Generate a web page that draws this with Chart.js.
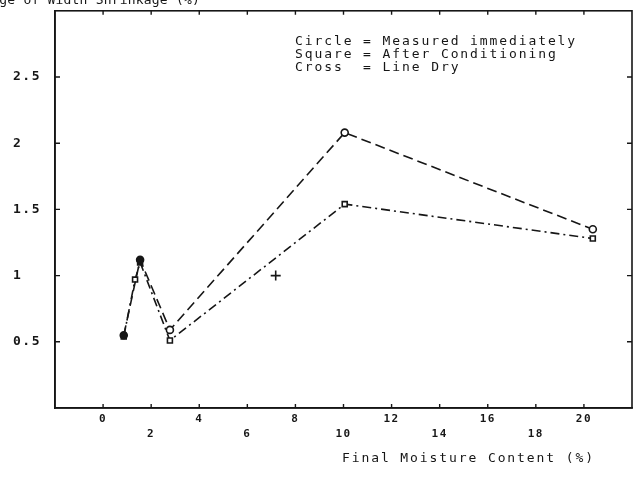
<!DOCTYPE html>
<html>
<head>
<meta charset="utf-8">
<script src="https://cdn.jsdelivr.net/npm/chart.js@4.4.0/dist/chart.umd.min.js"></script>
<style>
    body { margin: 0; background: #fff; }
    #wrap { width: 643px; height: 478px; }
</style>
</head>
<body>
<div id="wrap"><canvas id="shrinkChart"></canvas></div>
<script>
// Values (x = final moisture content %, y = width shrinkage %)
const measuredX = [0.86, 1.54, 2.78, 10.05, 20.37];
const measuredY = [0.55, 1.12, 0.59, 2.08, 1.35];

const conditionedX = [0.86, 1.33, 1.54, 2.78, 10.05, 20.37];
const conditionedY = [0.54, 0.97, 1.10, 0.51, 1.54, 1.28];

const lineDryX = [7.18];
const lineDryY = [1.0];

const legendLines = [
    'Circle = Measured immediately',
    'Square = After Conditioning',
    'Cross  = Line Dry'
];
const xTitle = 'Final Moisture Content (%)';
const yTitle = 'Percentage of Width Shrinkage (%)';

const ink = '#161616';
const monoFont = '"DejaVu Sans Mono", "Liberation Mono", monospace';

function toPoints(xs, ys) {
    return xs.map((x, i) => ({ x: x, y: ys[i] }));
}

// Inward tick marks on all four sides, box frame and the loose text
const framePlugin = {
    id: 'frame',
    beforeDraw(chart) {
        chart.ctx.letterSpacing = '1.5px';
    },
    afterDraw(chart) {
        const ctx = chart.ctx;
        const area = chart.chartArea;
        const xs = chart.scales.x;
        const ys = chart.scales.y;
        ctx.save();
        ctx.strokeStyle = ink;
        ctx.lineWidth = 1.6;
        ctx.strokeRect(area.left, area.top, area.right - area.left, area.bottom - area.top);

        ctx.lineWidth = 1.4;
        ctx.beginPath();
        xs.ticks.forEach(t => {
            if (t.value < 0 || t.value > 20) return;
            const px = xs.getPixelForValue(t.value);
            ctx.moveTo(px, area.bottom);
            ctx.lineTo(px, area.bottom - 4);
            ctx.moveTo(px, area.top);
            ctx.lineTo(px, area.top + 4);
        });
        ys.ticks.forEach(t => {
            if (t.value <= 0 || t.value >= 3) return;
            const py = ys.getPixelForValue(t.value);
            ctx.moveTo(area.left, py);
            ctx.lineTo(area.left + 5, py);
            ctx.moveTo(area.right, py);
            ctx.lineTo(area.right - 5, py);
        });
        ctx.stroke();

        ctx.fillStyle = ink;
        ctx.font = '13px ' + monoFont;
        ctx.letterSpacing = '1.9px';
        ctx.textBaseline = 'middle';
        ctx.textAlign = 'left';
        legendLines.forEach((line, i) => {
            ctx.fillText(line, 295, 42 + i * 12.7);
        });
        ctx.fillText(xTitle, 342, 459);

        ctx.textAlign = 'right';
        ctx.letterSpacing = '0.2px';
        ctx.fillText(yTitle, 200, 1);
        ctx.restore();
    }
};

const ctx = document.getElementById('shrinkChart').getContext('2d');
new Chart(ctx, {
    type: 'scatter',
    data: {
        datasets: [
            {
                label: 'Measured immediately',
                data: toPoints(measuredX, measuredY),
                showLine: true,
                borderColor: ink,
                borderWidth: 1.6,
                borderDash: [10, 5],
                pointStyle: 'circle',
                pointRadius: 3.5,
                pointBorderWidth: 1.6,
                pointBorderColor: ink,
                pointBackgroundColor: [ink, ink, '#fff', '#fff', '#fff']
            },
            {
                label: 'After Conditioning',
                data: toPoints(conditionedX, conditionedY),
                showLine: true,
                borderColor: ink,
                borderWidth: 1.6,
                borderDash: [9, 4, 2, 4],
                pointStyle: 'rect',
                pointRadius: 3.5,
                pointBorderWidth: 1.6,
                pointBorderColor: ink,
                pointBackgroundColor: [ink, '#fff', ink, '#fff', '#fff', '#fff']
            },
            {
                label: 'Line Dry',
                data: toPoints(lineDryX, lineDryY),
                showLine: false,
                pointStyle: 'cross',
                pointRadius: 5,
                pointBorderWidth: 1.6,
                pointBorderColor: ink
            }
        ]
    },
    options: {
        responsive: true,
        maintainAspectRatio: false,
        animation: false,
        layout: {
            padding: { left: 13, top: 6, right: 11, bottom: 0 }
        },
        plugins: {
            legend: { display: false },
            tooltip: { enabled: false }
        },
        scales: {
            x: {
                type: 'linear',
                min: -2,
                max: 22,
                afterFit: function(scale) { scale.height = 70; },
                border: { display: true, color: ink, width: 1.6 },
                grid: { display: false, drawTicks: false },
                ticks: {
                    stepSize: 2,
                    color: ink,
                    padding: 4,
                    maxRotation: 0,
                    autoSkip: false,
                    font: { family: monoFont, size: 11, weight: 'bold', lineHeight: 1.35 },
                    callback: function(value) {
                        if (value < 0 || value > 20) return '';
                        return value % 4 === 0 ? String(value) : ['', String(value)];
                    }
                }
            },
            y: {
                type: 'linear',
                min: 0,
                max: 3,
                afterFit: function(scale) { scale.width = 42; },
                border: { display: true, color: ink, width: 1.6 },
                grid: { display: false, drawTicks: false },
                ticks: {
                    stepSize: 0.5,
                    color: ink,
                    crossAlign: 'far',
                    font: { family: monoFont, size: 13, weight: 'bold' },
                    callback: function(value) {
                        if (value <= 0 || value >= 3) return '';
                        return String(value);
                    }
                }
            }
        }
    },
    plugins: [framePlugin]
});
</script>
</body>
</html>
